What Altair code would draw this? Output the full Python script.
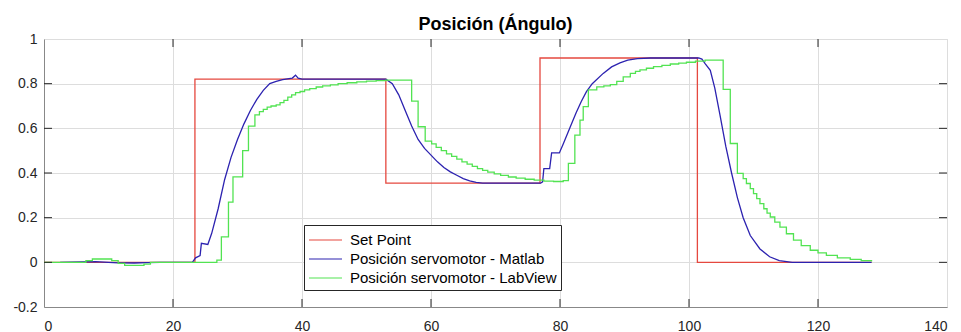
import altair as alt
import pandas as pd

# ---------------- data ----------------
series = ["Set Point", "Posición servomotor - Matlab", "Posición servomotor - LabView"]
colors = ["#e5483f", "#2c22b0", "#52e352"]

x_ticks = [0, 20, 40, 60, 80, 100, 120, 140]
y_ticks = [-0.2, 0, 0.2, 0.4, 0.6, 0.8, 1]

red_x = [0, 23.4, 53.0, 76.9, 101.3, 128.3]
red_y = [0, 0.82, 0.355, 0.915, 0, 0]

blue_x = [2.5, 6, 8, 10, 11.5, 14, 16, 18, 23.0, 23.5, 24.2, 24.4, 25.4, 26, 27, 28, 29, 30,
          31, 32, 33, 34, 35, 36, 37, 38.5, 39.0, 39.4, 40, 53.0, 54, 55, 56, 57, 58, 59, 60, 61,
          62, 63, 64, 65, 66, 67, 68, 77.0, 77.3, 77.5, 78.4, 78.7, 79.9, 80.5, 81.6, 82.5, 83.3,
          84.1, 85, 86.7, 88, 89.3, 90.5, 92, 94, 101.5, 102, 102.5, 103.3, 104, 104.8, 105.7,
          106.6, 107.5, 108.4, 109.5, 111, 112.5, 114, 116, 128.3]
blue_y = [0.0, 0.002, 0.003, 0.0, -0.002, -0.003, -0.001, 0.0, 0.0, 0.02, 0.03, 0.085, 0.08,
          0.13, 0.24, 0.37, 0.47, 0.55, 0.62, 0.68, 0.73, 0.77, 0.80, 0.81, 0.818, 0.825, 0.838,
          0.825, 0.82, 0.82, 0.80, 0.75, 0.68, 0.61, 0.55, 0.51, 0.48, 0.45, 0.425, 0.405, 0.39,
          0.375, 0.365, 0.358, 0.355, 0.355, 0.36, 0.42, 0.42, 0.49, 0.49, 0.53, 0.607, 0.67,
          0.72, 0.764, 0.80, 0.846, 0.875, 0.893, 0.905, 0.912, 0.915, 0.915, 0.91, 0.89, 0.86,
          0.78, 0.66, 0.52, 0.40, 0.29, 0.20, 0.12, 0.06, 0.025, 0.008, 0.0, 0.0]

green_x = [0, 6.5, 7.5, 10.5, 11.5, 12.5, 15.5, 16.5, 26.8, 27.5,
           28.6, 29.3, 30.8, 31.7, 32.7, 33.4, 34.0, 34.6, 35.2, 36.0,
           36.6, 37.2, 37.8, 38.4, 39.0, 39.7, 40.4, 41.2, 42.2, 43.2,
           44.4, 45.6, 47.0, 48.5, 50.0, 51.5, 53.0, 57.0, 58.0, 59.1,
           60.1, 60.8, 61.6, 62.4, 63.2, 64.0, 64.8, 65.6, 66.4, 67.2,
           68.0, 68.8, 69.8, 70.8, 72.0, 73.2, 74.6, 76.0, 77.5, 79.0,
           80.5, 81.3, 82.3, 83.1, 83.6, 84.4, 85.7, 86.8, 87.8, 88.8,
           89.8, 90.9, 91.7, 92.4, 93.4, 94.5, 95.8, 97.1, 98.4, 99.6,
           101.0, 102.5, 105.3, 106.4, 107.5, 108.4, 108.9, 109.5, 110.0, 110.5,
           111.0, 111.6, 112.1, 112.6, 113.3, 114.1, 115.1, 116.2, 117.4, 118.8,
           120.0, 121.3, 123.0, 125.0, 126.7, 128.3]
green_y = [0.0, 0.008, 0.015, 0.008, -0.005, -0.014, -0.008, 0.0, 0.01, 0.114,
           0.27, 0.383, 0.50, 0.61, 0.66, 0.675, 0.685, 0.695, 0.70, 0.705,
           0.715, 0.725, 0.74, 0.75, 0.76, 0.765, 0.772, 0.778, 0.785, 0.79,
           0.795, 0.80, 0.804, 0.808, 0.811, 0.814, 0.816, 0.722, 0.607, 0.543,
           0.53, 0.515, 0.50, 0.486, 0.474, 0.462, 0.45, 0.44, 0.43, 0.42,
           0.412, 0.404, 0.396, 0.389, 0.382, 0.377, 0.372, 0.368, 0.364, 0.362,
           0.366, 0.443, 0.57, 0.637, 0.697, 0.772, 0.786, 0.79, 0.796, 0.81,
           0.83, 0.846, 0.855, 0.862, 0.869, 0.876, 0.882, 0.888, 0.892, 0.896,
           0.901, 0.905, 0.774, 0.532, 0.398, 0.375, 0.353, 0.33, 0.308, 0.285,
           0.263, 0.24, 0.22, 0.203, 0.18, 0.158, 0.128, 0.099, 0.075, 0.054,
           0.042, 0.031, 0.02, 0.013, 0.008, 0.004]

assert len(blue_x) == len(blue_y) and len(green_x) == len(green_y)

df_red = pd.DataFrame({"t": red_x, "v": red_y, "serie": series[0]})
df_blue = pd.DataFrame({"t": blue_x, "v": blue_y, "serie": series[1]})
df_green = pd.DataFrame({"t": green_x, "v": green_y, "serie": series[2]})

W, H = 903, 268
FONT = "Liberation Sans"
AX = "#262626"
LBL = 14

x_enc = alt.X("t:Q", scale=alt.Scale(domain=[0, 140], nice=False),
              axis=alt.Axis(values=x_ticks, title=None, labelPadding=12, tickSize=0,
                            labelFont=FONT, labelFontSize=LBL, labelColor=AX))
y_enc = alt.Y("v:Q", scale=alt.Scale(domain=[-0.2, 1], nice=False, zero=False),
              axis=alt.Axis(values=y_ticks, title=None, labelPadding=7, tickSize=0,
                            labelFont=FONT, labelFontSize=LBL, labelColor=AX,
                            labelExpr="'' + datum.value"))
color_enc = alt.Color(
    "serie:N",
    scale=alt.Scale(domain=series, range=colors),
    legend=alt.Legend(
        title=None, orient="none", legendX=260, legendY=186, direction="vertical",
        fillColor="white", strokeColor=AX, padding=4,
        symbolType="M-1,0H2.3", symbolSize=400, symbolStrokeWidth=1.2,
        labelFont=FONT, labelFontSize=15, labelColor="#000", labelOffset=20,
        labelLimit=400, rowPadding=0,
    ),
)

red = alt.Chart(df_red).mark_line(interpolate="step-after", strokeWidth=1.3).encode(
    x=x_enc, y=y_enc, color=color_enc)
blue = alt.Chart(df_blue).mark_line(strokeWidth=1.3).encode(
    x=x_enc, y=y_enc, color=color_enc)
green = alt.Chart(df_green).mark_line(interpolate="step-after", strokeWidth=1.3).encode(
    x=x_enc, y=y_enc, color=color_enc)

# inward ticks (MATLAB style)
df_xt = pd.DataFrame({"t": x_ticks[1:-1]})
df_yt = pd.DataFrame({"v": y_ticks[1:-1]})
tick_len = 8
top_ticks = alt.Chart(df_xt).mark_rule(color=AX, strokeWidth=1).encode(
    x="t:Q", y=alt.value(0), y2=alt.value(tick_len))
bot_ticks = alt.Chart(df_xt).mark_rule(color=AX, strokeWidth=1).encode(
    x="t:Q", y=alt.value(H - tick_len), y2=alt.value(H))
left_ticks = alt.Chart(df_yt).mark_rule(color=AX, strokeWidth=1).encode(
    y="v:Q", x=alt.value(0), x2=alt.value(tick_len))
right_ticks = alt.Chart(df_yt).mark_rule(color=AX, strokeWidth=1).encode(
    y="v:Q", x=alt.value(W - tick_len), x2=alt.value(W))

chart = alt.layer(red, blue, green, top_ticks, bot_ticks, left_ticks, right_ticks).properties(
    width=W, height=H,
    title=alt.Title("Posición (Ángulo)", font=FONT, fontSize=18, fontWeight="bold",
                    color="#000", anchor="middle", offset=-2),
    autosize=alt.AutoSizeParams(type="none"),
    padding={"left": 44, "top": 39, "right": 14, "bottom": 25},
).configure_view(
    stroke=AX, strokeWidth=1
).configure_axis(
    domainColor=AX, domainWidth=1, gridColor="#e4e4e4", gridWidth=1,
).configure(background="white")

chart.save("out.html", embed_options={"renderer": "svg", "actions": False})
